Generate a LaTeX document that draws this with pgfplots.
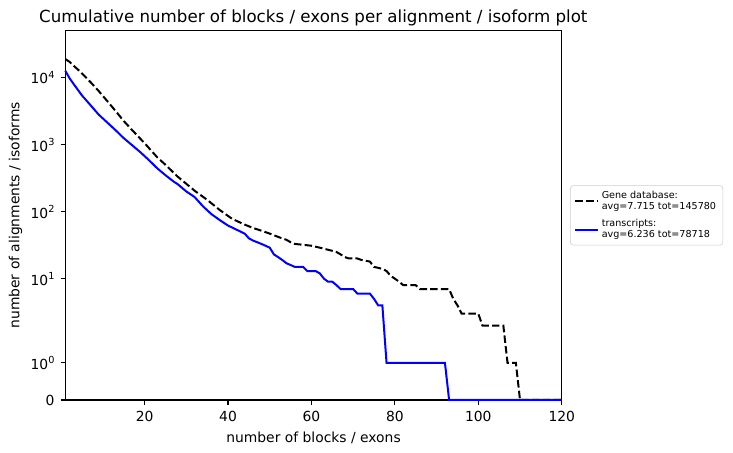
\documentclass[border=0pt]{standalone}
\usepackage{pgfplots}
\pgfplotsset{compat=1.18}
\usepackage{pgfplotstable}
\usepackage{fontspec}
\setmainfont{DejaVu Sans}
\newcommand{\dec}[1]{10\raisebox{0.42em}{\fontsize{7.3}{8}\selectfont #1}}

\pgfplotstableread{
x y
1 18895
2 17200
3 15000
4 13200
5 11500
7 8600
9 6300
11 4500
13 3200
15 2250
17 1650
20 1050
23 650
25 500
28 330
30 260
32 205
35 150
38 106
41 78
44 64
46 57
48 52
50 47
52 42
54 38
55 35
56 33
58 32
60 31
62 29
63 28
65 26
66 25
67 23
68 21
69 20
71 20
72 19
74 18
75 15
77 14
78 13
79 11
80 10
81 9
82 8
85 8
86 7
93 7
94 5
95 4
96 3
100 3
101 2
106 2
107 1
109 1
110 0
120 0
}\genedb

\pgfplotstableread{
x y
1 12623
2 9800
3 8000
5 5400
7 3900
9 2800
11 2150
13 1650
15 1250
17 980
19 770
21 590
23 445
25 350
27 280
28 255
30 200
32 165
34 120
36 92
38 75
40 62
42 54
44 47
45 40
46 37
47 35
48 33
49 31
50 29
51 23
52 21
53 19
54 17
55 16
56 15
58 15
59 13
61 13
62 12
63 10
64 9
65 9
66 8
67 7
70 7
71 6
74 6
75 5
76 4
77 4
78 1
92 1
93 0
120 0
}\transcripts

\begin{document}
\begin{tikzpicture}
\path[use as bounding box] (0,0) rectangle (549.75pt,339.75pt);
\begin{axis}[
  at={(49pt,39.75pt)}, anchor=south west,
  scale only axis, width=372.3pt, height=277pt,
  xmin=1, xmax=120, ymin=0, ymax=11.02,
  xtick={20,40,60,80,100,120},
  ytick={0,1.11111,3.62016,5.62016,7.62016,9.62016},
  yticklabels={0,\dec{0},\dec{1},\dec{2},\dec{3},\dec{4}},
  minor tick num=0,
  tick align=outside, tick pos=left,
  major tick length=3.6pt,
  every tick/.style={black, line width=0.8pt},
  axis line style={line width=0.8pt},
  /pgf/number format/assume math mode=true,
  tick label style={font=\fontsize{10.4}{12}\selectfont},
  xticklabel style={yshift=-1pt},
  yticklabel style={xshift=-1pt},
  label style={font=\fontsize{10.4}{12}\selectfont},
  xlabel={number of blocks / exons},
  ylabel={number of alignments / isoforms},
  xlabel style={yshift=-1pt},
  ylabel style={yshift=-0.5pt},
  y filter/.expression={y<=2 ? 1.111111*y : 2*(1.111111+ln(max(y,2)/2)/2.302585)},
  clip=false,
  legend style={at={(1.017,0.5)}, anchor=west, draw=black!20, rounded corners=2pt,
    fill=white, font=\fontsize{7.2}{8.3}\selectfont, cells={align=left},
    inner xsep=3pt, inner ysep=2pt, row sep=2pt},
  legend cell align=left,
  legend image code/.code={\draw[#1] (0pt,0pt) -- (17pt,0pt);},
]
\addplot[black, line width=1.5pt, dash pattern=on 5.6pt off 2.4pt] table[x=x,y=y] {\genedb};
\addlegendentry{Gene database:\\avg=7.715 tot=145780}
\addplot[blue, line width=1.5pt] table[x=x,y=y] {\transcripts};
\addlegendentry{transcripts:\\avg=6.236 tot=78718}
\end{axis}
\node[anchor=base, font=\fontsize{12.5}{15}\selectfont, inner sep=0pt] at (235pt,323pt) {Cumulative number of blocks / exons per alignment / isoform plot};
\end{tikzpicture}
\end{document}
